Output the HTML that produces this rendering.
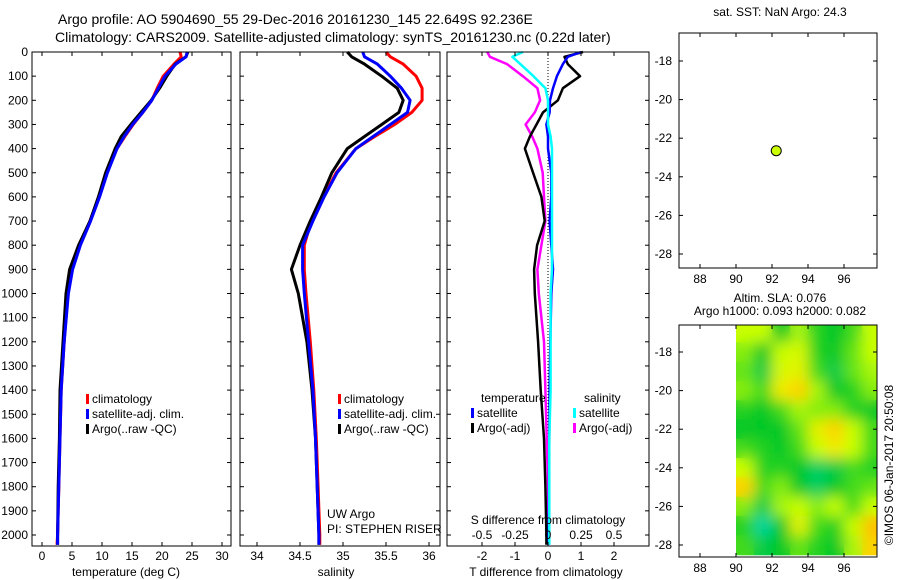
<!DOCTYPE html>
<html><head><meta charset="utf-8"><style>
body{margin:0;background:#fff;}
svg{display:block;font-family:"Liberation Sans",sans-serif;}
text{font-size:12px;fill:#000;}
</style></head><body>
<svg id="fig" width="900" height="580" viewBox="0 0 900 580">
<defs>
<filter id="blur" x="0" y="0" width="1" height="1"><feGaussianBlur stdDeviation="7" edgeMode="duplicate"/></filter>
<clipPath id="mapclip"><rect x="736" y="325" width="141" height="232"/></clipPath>
</defs>
<text x="58" y="24" style="font-size:14px">Argo profile: AO 5904690_55 29-Dec-2016 20161230_145 22.649S 92.236E</text>
<text x="55" y="42" style="font-size:14px">Climatology: CARS2009. Satellite-adjusted climatology: synTS_20161230.nc (0.22d later)</text>
<g id="p1"></g>
<g id="p2"></g>
<g id="p3"></g>
<g id="m1"></g>
<g id="m2"></g>
<text transform="translate(893,465) rotate(-90)" text-anchor="middle">©IMOS 06-Jan-2017 20:50:08</text>
</svg>
<script>
const depths=[0,20,50,100,150,200,250,300,350,400,500,600,700,800,900,1000,1200,1400,1600,1800,2000,2040];
const tClim=[23.0,23.2,22.0,20.2,19.2,18.3,16.8,15.2,13.8,12.5,10.8,9.5,8.0,6.3,5.0,4.3,3.7,3.2,3.0,2.8,2.6,2.5];
const tSat=[24.2,24.0,22.3,20.5,19.4,18.3,16.8,15.1,13.7,12.5,10.9,9.6,8.1,6.4,5.1,4.4,3.7,3.2,3.0,2.8,2.6,2.6];
const tArgo=[24.3,24.0,22.2,20.8,19.6,18.2,16.5,14.8,13.2,12.2,10.6,9.4,8.0,6.1,4.6,4.0,3.5,3.0,2.9,2.7,2.6,2.6];
const sClim=[35.5,35.55,35.7,35.85,35.92,35.92,35.8,35.6,35.37,35.15,34.92,34.77,34.63,34.55,34.55,34.57,34.62,34.66,34.69,34.71,34.73,34.73];
const sSat=[35.23,35.25,35.4,35.55,35.68,35.78,35.75,35.55,35.35,35.15,34.93,34.78,34.65,34.53,34.53,34.55,34.6,34.65,34.68,34.7,34.72,34.72];
const sArgo=[35.05,35.1,35.25,35.45,35.63,35.7,35.65,35.45,35.25,35.05,34.87,34.75,34.62,34.5,34.4,34.48,34.58,34.64,34.68,34.7,34.72,34.72];
const dTsat=[1.0,0.6,0.45,0.27,0.15,0.06,0.05,-0.05,0,0,0.1,0.1,0.05,0.1,0.15,0.1,0.07,0.05,0.04,0.03,0.02,0.02];
const dTargo=[1.06,0.5,0.6,0.97,0.45,0.3,-0.15,-0.35,-0.55,-0.7,-0.45,-0.2,-0.1,-0.33,-0.42,-0.4,-0.3,-0.22,-0.12,-0.08,-0.05,-0.05];
const dSsat=[-0.19,-0.27,-0.21,-0.11,-0.02,0,0,0,0.02,0.03,0.03,0.03,0.03,0.03,0.03,0.02,0.02,0.02,0.01,0.01,0.01,0.01];
const dSargo=[-0.46,-0.44,-0.31,-0.19,-0.08,-0.06,-0.1,-0.17,-0.12,-0.08,-0.04,-0.03,-0.02,-0.05,-0.08,-0.07,-0.03,-0.02,-0.01,0,0,0];
const depthTicks=[0,100,200,300,400,500,600,700,800,900,1000,1100,1200,1300,1400,1500,1600,1700,1800,1900,2000];
const tTicks=[0,5,10,15,20,25,30];
const sTicks=[34,34.5,35,35.5,36];
const dTTicks=[-2,-1,0,1,2];
const dSTickLabels=["-0.5","-0.25","0","0.25","0.5"];
const dSTicks=[-0.5,-0.25,0,0.25,0.5];
const lonTicks=[88,90,92,94,96];
const latTicks=[-18,-20,-22,-24,-26,-28];
const argoLon=92.236, argoLat=-22.649;
const slaLons=[90,91,92,93,94,95,96,97];
const slaLats=[-17,-18,-19,-20,-21,-22,-23,-24,-25,-26,-27,-28];
const slaGrid=[
[0.6,0.6,0.3,0.55,0.35,0.3,0.4,0.6],
[0.5,0.3,0.6,0.65,0.35,0.3,0.45,0.6],
[0.45,0.25,0.65,0.7,0.4,0.25,0.45,0.55],
[0.5,0.4,0.75,0.85,0.55,0.3,0.35,0.5],
[0.35,0.3,0.4,0.55,0.5,0.5,0.35,0.3],
[0.3,0.3,0.3,0.45,0.7,0.85,0.6,0.4],
[0.4,0.35,0.3,0.4,0.6,0.75,0.6,0.4],
[0.6,0.35,0.35,0.3,0.2,0.25,0.4,0.35],
[0.85,0.4,0.5,0.3,0.2,0.3,0.4,0.45],
[0.5,0.25,0.55,0.6,0.5,0.6,0.4,0.6],
[0.35,0.1,0.3,0.7,0.4,0.35,0.6,0.9],
[0.4,0.25,0.3,0.45,0.35,0.3,0.55,0.85]];

const NS="http://www.w3.org/2000/svg";
function mk(parent,tag,attrs){const e=document.createElementNS(NS,tag);for(const k in attrs)e.setAttribute(k,attrs[k]);parent.appendChild(e);return e;}
const TOP=52,BOT=546;
const yD=d=>TOP+d*0.2415;
function box(g,x0,y0,x1,y1){const r=mk(g,'rect',{x:x0,y:y0,width:x1-x0,height:y1-y0,fill:'none',stroke:'#000','stroke-width':1});}
function line(g,xs,fx,color,name,w){
  const pts=depths.map((d,i)=>fx(xs[i]).toFixed(1)+','+yD(d).toFixed(1)).join(' ');
  const p=mk(g,'polyline',{points:pts,fill:'none',stroke:color,'stroke-width':w||3,'stroke-linejoin':'round'});
  
}
function depthAxis(g,x0,x1,labels){
  depthTicks.forEach(d=>{const y=yD(d);
    mk(g,'line',{x1:x0,y1:y,x2:x0+4,y2:y,stroke:'#000'});
    mk(g,'line',{x1:x1,y1:y,x2:x1-4,y2:y,stroke:'#000'});
    if(labels){const t=mk(g,'text',{x:x0-4,y:y+4,'text-anchor':'end'});t.textContent=d;}
  });
}
function xAxis(g,ticks,fx,labels,ly){
  ticks.forEach((v,i)=>{const x=fx(v);
    mk(g,'line',{x1:x,y1:BOT,x2:x,y2:BOT-4,stroke:'#000'});
    mk(g,'line',{x1:x,y1:TOP,x2:x,y2:TOP+4,stroke:'#000'});
    const t=mk(g,'text',{x:x,y:ly,'text-anchor':'middle'});t.textContent=labels?labels[i]:v;
    });
}
function txt(g,x,y,s,name,anchor){const t=mk(g,'text',{x:x,y:y,'text-anchor':anchor||'start'});t.textContent=s;return t;}
function legend(g,x,y,color,label){
  const r=mk(g,'rect',{x:x,y:y-9,width:3,height:10,fill:color});
  txt(g,x+6,y,label,'legend-entry');
}
const p1=document.getElementById('p1');
const fT=v=>42+v*6;
line(p1,tClim,fT,'#f00','climatology-temp-line');
line(p1,tArgo,fT,'#000','argo-temp-line');
line(p1,tSat,fT,'#00f','satellite-temp-line');
box(p1,32,TOP,231,BOT);depthAxis(p1,32,231,true);xAxis(p1,tTicks,fT,null,560);
txt(p1,126,576,'temperature (deg C)','x-axis-title','middle');
legend(p1,86,403,'#f00','climatology');legend(p1,86,418,'#00f','satellite-adj. clim.');legend(p1,86,433,'#000','Argo(..raw -QC)');
const p2=document.getElementById('p2');
const fS=v=>257+(v-34)*86;
line(p2,sClim,fS,'#f00','climatology-sal-line');
line(p2,sArgo,fS,'#000','argo-sal-line');
line(p2,sSat,fS,'#00f','satellite-sal-line');
box(p2,240,TOP,440,BOT);depthAxis(p2,240,440,false);xAxis(p2,sTicks,fS,null,560);
txt(p2,336,576,'salinity','x-axis-title','middle');
legend(p2,338,403,'#f00','climatology');legend(p2,338,418,'#00f','satellite-adj. clim.');legend(p2,338,433,'#000','Argo(..raw -QC)');
txt(p2,327,518,'UW Argo','pi-credit');txt(p2,327,533,'PI: STEPHEN RISER','pi-credit');
const p3=document.getElementById('p3');
const fDT=v=>548+v*33, fDS=v=>548+v*132;
mk(p3,'line',{x1:548,y1:TOP,x2:548,y2:BOT,stroke:'#000','stroke-dasharray':'1,2'});
line(p3,dSargo,fDS,'#f0f','argo-sal-diff-line',2.5);
line(p3,dTargo,fDT,'#000','argo-temp-diff-line',2.5);
line(p3,dTsat,fDT,'#00f','satellite-temp-diff-line',2.5);
line(p3,dSsat,fDS,'#0ff','satellite-sal-diff-line',2.5);
box(p3,447,TOP,649,BOT);depthAxis(p3,447,649,false);xAxis(p3,dTTicks,fDT,null,560);
dSTicks.forEach((v,i)=>txt(p3,fDS(v),539,dSTickLabels[i],'s-diff-tick-label','middle'));
txt(p3,548,524,'S difference from climatology','s-axis-title','middle');
txt(p3,546,576,'T difference from climatology','x-axis-title','middle');
txt(p3,481,402,'temperature','legend-header');txt(p3,584,402,'salinity','legend-header');
legend(p3,471,417,'#00f','satellite');legend(p3,471,432,'#000','Argo(-adj)');
legend(p3,573,417,'#0ff','satellite');legend(p3,573,432,'#f0f','Argo(-adj)');
const fLon=v=>700+(v-88)*18;
function mapAxes(g,y0,y1,fLat){
  box(g,679,y0,877,y1);
  lonTicks.forEach(v=>{const x=fLon(v);mk(g,'line',{x1:x,y1:y1,x2:x,y2:y1-4,stroke:'#000'});mk(g,'line',{x1:x,y1:y0,x2:x,y2:y0+4,stroke:'#000'});txt(g,x,y1+15,v,'lon-tick-label','middle');});
  latTicks.forEach(v=>{const y=fLat(v);mk(g,'line',{x1:679,y1:y,x2:683,y2:y,stroke:'#000'});mk(g,'line',{x1:877,y1:y,x2:873,y2:y,stroke:'#000'});txt(g,672,y+4,v,'lat-tick-label','end');});
}
const m1=document.getElementById('m1');
const fLat1=v=>61+(-18-v)*19.3;
txt(m1,780,16,'sat. SST: NaN Argo: 24.3','sst-map-title','middle');
mapAxes(m1,33,268,fLat1);
const dot=mk(m1,'circle',{cx:fLon(argoLon),cy:fLat1(argoLat),r:5,fill:'#ccff00',stroke:'#000'});

const m2=document.getElementById('m2');
const fLat2=v=>352+(-18-v)*19.3;
txt(m2,780,302,'Altim. SLA: 0.076','sla-map-title','middle');
txt(m2,780,315,'Argo h1000: 0.093 h2000: 0.082','sla-map-subtitle','middle');
function col(v){const stops=[[0,[0,220,220]],[0.3,[0,200,40]],[0.6,[200,255,0]],[0.8,[255,230,0]],[1,[255,150,0]]];
  for(let i=1;i<stops.length;i++){if(v<=stops[i][0]){const a=stops[i-1],b=stops[i],t=(v-a[0])/(b[0]-a[0]);return 'rgb('+a[1].map((c,k)=>Math.round(c+(b[1][k]-c)*t)).join(',')+')';}}return 'rgb(255,150,0)';}
const gClip=mk(m2,'g',{'clip-path':'url(#mapclip)'});
const gBase=mk(gClip,'g',{});
const gBlur=mk(gClip,'g',{filter:'url(#blur)'});
[gBase,gBlur].forEach(layer=>{
slaLats.forEach((la,r)=>slaLons.forEach((lo,c)=>{
  const x0=fLon(lo),x1=fLon(lo+1)+0.5;
  const y0=fLat2(la+0.5),y1=fLat2(la-0.5)+0.5;
  const e=mk(layer,'rect',{x:x0,y:y0,width:x1-x0,height:y1-y0,fill:col(slaGrid[r][c])});
  
  
}));});
mapAxes(m2,325,557,fLat2);
</script>
</body></html>
